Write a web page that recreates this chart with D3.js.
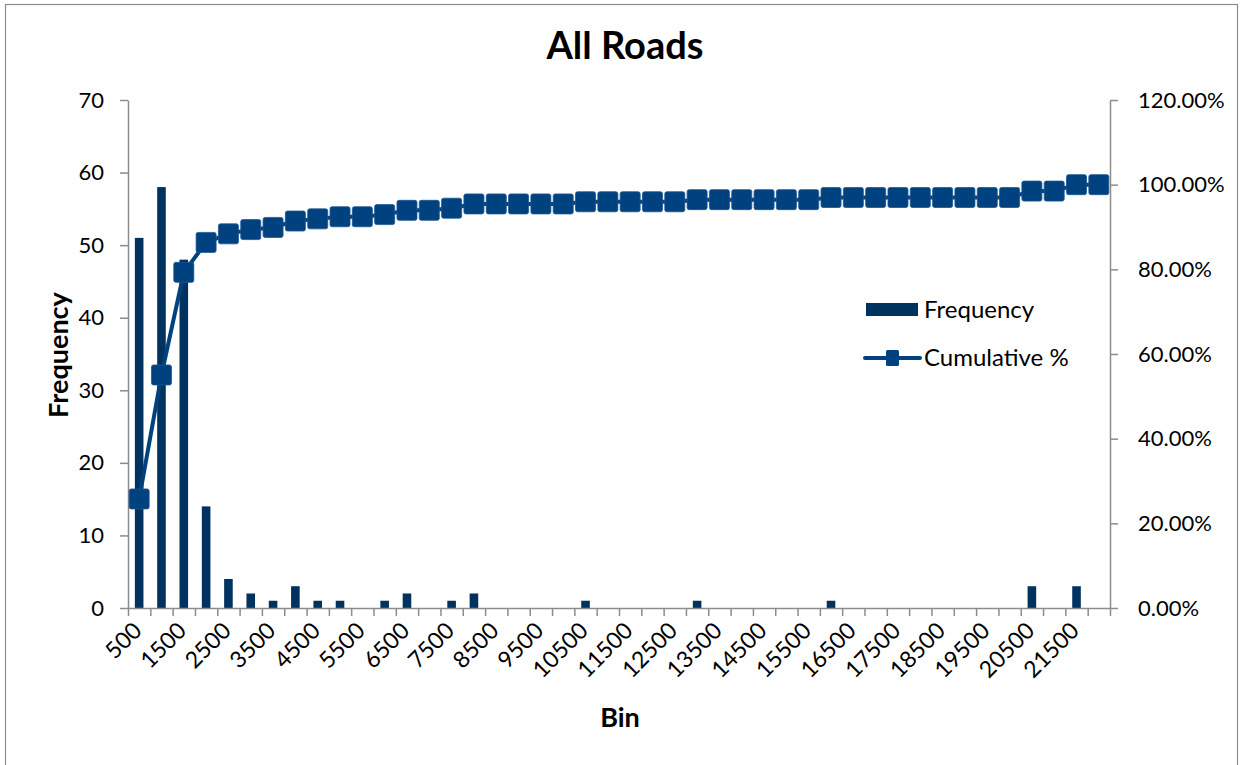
<!DOCTYPE html>
<html>
<head>
<meta charset="utf-8">
<script src="https://cdn.jsdelivr.net/npm/d3@7"></script>
<style>
  html, body { margin: 0; padding: 0; background: #fff; }
  svg { display: block; font-family: Lato, "Open Sans", sans-serif; }
</style>
</head>
<body>
<svg id="chart" width="1243" height="765"></svg>
<script>
// ---- data ----
const bins = [500, 1000, 1500, 2000, 2500, 3000, 3500, 4000, 4500, 5000,
  5500, 6000, 6500, 7000, 7500, 8000, 8500, 9000, 9500, 10000,
  10500, 11000, 11500, 12000, 12500, 13000, 13500, 14000, 14500, 15000,
  15500, 16000, 16500, 17000, 17500, 18000, 18500, 19000, 19500, 20000,
  20500, 21000, 21500, 22000];
const frequency = [51, 58, 48, 14, 4, 2, 1, 3, 1, 1,
  0, 1, 2, 0, 1, 2, 0, 0, 0, 0,
  1, 0, 0, 0, 0, 1, 0, 0, 0, 0,
  0, 1, 0, 0, 0, 0, 0, 0, 0, 0,
  3, 0, 3, 0];
const cumulativePct = [25.76, 55.05, 79.29, 86.36, 88.38, 89.39, 89.90, 91.41, 91.92, 92.42,
  92.42, 92.93, 93.94, 93.94, 94.44, 95.45, 95.45, 95.45, 95.45, 95.45,
  95.96, 95.96, 95.96, 95.96, 95.96, 96.46, 96.46, 96.46, 96.46, 96.46,
  96.46, 96.97, 96.97, 96.97, 96.97, 96.97, 96.97, 96.97, 96.97, 96.97,
  98.48, 98.48, 100.00, 100.00];
const freqTicks = [0, 10, 20, 30, 40, 50, 60, 70];
const pctTicks = [0, 0.2, 0.4, 0.6, 0.8, 1.0, 1.2];
const binTickLabels = [500, 1500, 2500, 3500, 4500, 5500, 6500, 7500, 8500, 9500,
  10500, 11500, 12500, 13500, 14500, 15500, 16500, 17500, 18500, 19500, 20500, 21500];

// ---- layout ----
const svg = d3.select("#chart");
const L = 128, R = 1110, T = 100, B = 608;
const barColor = "#00325f";
const lineColor = "#00427f";
const axisColor = "#8c8c8c";
const fs = 22;

// outer border
svg.append("rect").attr("x", 5.5).attr("y", 4.5).attr("width", 1232).attr("height", 780)
  .attr("fill", "none").attr("stroke", "#8c8c8c").attr("stroke-width", 1.2);

const x = d3.scaleBand().domain(bins).range([L, R]).padding(0);
const xIdx = d3.scaleLinear().domain([0, bins.length]).range([L, R]);
const yL = d3.scaleLinear().domain([0, 70]).range([B, T]);
const yR = d3.scaleLinear().domain([0, 1.2]).range([B, T]);

// bars
const bw = x.bandwidth() * 0.385;
svg.append("g").selectAll("rect").data(bins).join("rect")
  .attr("x", (d) => x(d) + x.bandwidth() / 2 - bw / 2)
  .attr("y", (d, i) => yL(frequency[i]))
  .attr("width", bw)
  .attr("height", (d, i) => B - yL(frequency[i]))
  .attr("fill", barColor);

// axes
function styleAxis(g) {
  g.selectAll("path.domain").attr("stroke", axisColor).attr("stroke-width", 1.5);
  g.selectAll(".tick line").attr("stroke", axisColor).attr("stroke-width", 1.5);
  g.selectAll(".tick text").attr("font-size", fs).attr("fill", "#000")
    .attr("font-family", "Lato, 'Open Sans', sans-serif");
}
const gL = svg.append("g").attr("transform", `translate(${L},0)`)
  .call(d3.axisLeft(yL).tickValues(freqTicks).tickSize(8).tickSizeOuter(0).tickPadding(16));
styleAxis(gL);
const gR = svg.append("g").attr("transform", `translate(${R},0)`)
  .call(d3.axisRight(yR).tickValues(pctTicks).tickSize(8).tickSizeOuter(0).tickPadding(20)
    .tickFormat(d3.format(".2%")));
styleAxis(gR);
const gX = svg.append("g").attr("transform", `translate(0,${B})`)
  .call(d3.axisBottom(xIdx).tickValues(d3.range(bins.length + 1)).tickSize(8).tickSizeOuter(0)
    .tickFormat(""));
styleAxis(gX);

// x labels rotated
svg.append("g").selectAll("text").data(binTickLabels).join("text")
  .attr("transform", (d) => `translate(${x(d) + x.bandwidth() / 2 + 4},632) rotate(-45)`)
  .attr("text-anchor", "end")
  .attr("font-size", 23)
  .text((d) => d);

// cumulative line
const cx = (d) => x(d) + x.bandwidth() / 2;
const line = d3.line().x((d, i) => cx(bins[i])).y((d) => yR(d / 100));
svg.append("path").datum(cumulativePct).attr("d", line)
  .attr("fill", "none").attr("stroke", lineColor).attr("stroke-width", 4)
  .attr("stroke-linejoin", "round");
const ms = 20;
svg.append("g").selectAll("rect").data(cumulativePct).join("rect")
  .attr("x", (d, i) => cx(bins[i]) - ms / 2)
  .attr("y", (d) => yR(d / 100) - ms / 2)
  .attr("width", ms).attr("height", ms).attr("rx", 2)
  .attr("fill", lineColor).attr("stroke", "#1c5590").attr("stroke-width", 0.8);

// title & axis titles
svg.append("text").attr("x", 625).attr("y", 59).attr("text-anchor", "middle")
  .attr("font-size", 38).attr("font-weight", "bold").text("All Roads");
svg.append("text").attr("transform", "translate(68,355) rotate(-90)").attr("text-anchor", "middle")
  .attr("font-size", 27).attr("font-weight", "bold").text("Frequency");
svg.append("text").attr("x", 620).attr("y", 727).attr("text-anchor", "middle")
  .attr("font-size", 27).attr("font-weight", "bold").text("Bin");

// legend
const lg = svg.append("g");
lg.append("rect").attr("x", 866).attr("y", 303).attr("width", 52).attr("height", 13).attr("fill", barColor);
lg.append("text").attr("x", 924).attr("y", 318).attr("font-size", 24).text("Frequency");
lg.append("line").attr("x1", 865).attr("x2", 920).attr("y1", 358).attr("y2", 358)
  .attr("stroke", lineColor).attr("stroke-width", 4).attr("stroke-linecap", "round");
lg.append("rect").attr("x", 886).attr("y", 350).attr("width", 13).attr("height", 16).attr("rx", 1.5)
  .attr("fill", lineColor);
lg.append("text").attr("x", 924).attr("y", 366).attr("font-size", 24).text("Cumulative %");
</script>
</body>
</html>
